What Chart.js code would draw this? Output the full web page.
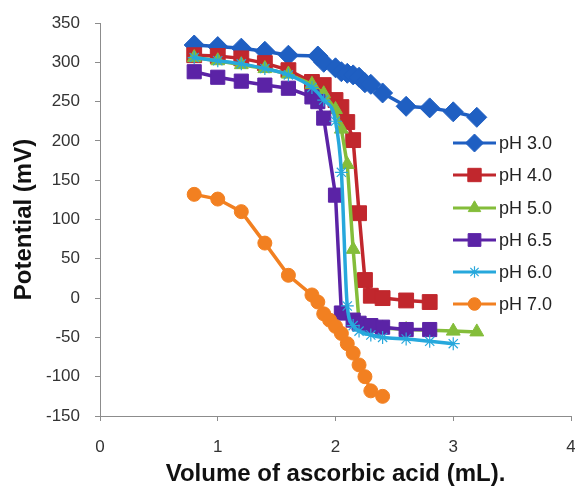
<!DOCTYPE html>
<html>
<head>
<meta charset="utf-8">
<script src="https://cdn.jsdelivr.net/npm/chart.js@4.4.1/dist/chart.umd.min.js"></script>
<style>
  html, body { margin: 0; padding: 0; background: #ffffff; }
  #wrap { width: 575px; height: 486px; }
</style>
</head>
<body>
<div id="wrap"><canvas id="c" width="575" height="486"></canvas></div>
<script>
// ---- data ----
const seriesNames = ["pH 3.0", "pH 4.0", "pH 5.0", "pH 6.5", "pH 6.0", "pH 7.0"];

const ph30X = [0.8, 1.0, 1.2, 1.4, 1.6, 1.85, 1.9, 2.0, 2.05, 2.1, 2.15, 2.2, 2.25, 2.3, 2.4, 2.6, 2.8, 3.0, 3.2];
const ph30Y = [322, 320, 318, 314, 309, 308, 300, 293, 288, 286, 284, 281, 274, 272, 261, 244, 242, 237, 230];

const ph40X = [0.8, 1.0, 1.2, 1.4, 1.6, 1.8, 1.9, 2.0, 2.05, 2.1, 2.15, 2.2, 2.25, 2.3, 2.4, 2.6, 2.8];
const ph40Y = [309, 308, 305, 299, 290, 275, 271, 252, 243, 224, 201, 108, 23, 3, 0, -3, -5];

const ph50X = [0.8, 1.0, 1.2, 1.4, 1.6, 1.8, 1.9, 2.0, 2.05, 2.1, 2.15, 2.2, 2.3, 2.4, 2.6, 2.8, 3.0, 3.2];
const ph50Y = [306, 302, 297, 292, 285, 272, 260, 240, 215, 170, 62, -30, -36, -38, -40, -41, -42, -43];

const ph65X = [0.8, 1.0, 1.2, 1.4, 1.6, 1.8, 1.85, 1.9, 2.0, 2.05, 2.15, 2.2, 2.3, 2.4, 2.6, 2.8];
const ph65Y = [288, 281, 276, 271, 267, 256, 250, 229, 131, -19, -28, -32, -35, -37, -40, -40];

const ph60X = [0.8, 1.0, 1.2, 1.4, 1.6, 1.8, 1.9, 2.0, 2.05, 2.1, 2.15, 2.2, 2.3, 2.4, 2.6, 2.8, 3.0];
const ph60Y = [306, 302, 298, 292, 284, 268, 252, 225, 160, -10, -35, -42, -47, -50, -52, -55, -58];

const ph70X = [0.8, 1.0, 1.2, 1.4, 1.6, 1.8, 1.85, 1.9, 1.95, 2.0, 2.05, 2.1, 2.15, 2.2, 2.25, 2.3, 2.4];
const ph70Y = [132, 126, 110, 70, 29, 4, -5, -20, -28, -36, -45, -58, -70, -85, -100, -118, -125];

const xTicks = [0, 1, 2, 3, 4];
const yTicks = [-150, -100, -50, 0, 50, 100, 150, 200, 250, 300, 350];

const xTitle = "Volume of ascorbic acid (mL).";
const yTitle = "Potential (mV)";

// ---- styling ----
const colors = ["#1F5FC2", "#C1272D", "#84BD3A", "#5B23A6", "#27A8DC", "#F28021"];
const styles = ["rectRot", "rect", "triangle", "rect", "star", "circle"];
const radii = [10, 10.5, 8, 10, 6.5, 7];

function pts(xs, ys) { return xs.map((x, i) => ({ x: x, y: ys[i] })); }
const allX = [ph30X, ph40X, ph50X, ph65X, ph60X, ph70X];
const allY = [ph30Y, ph40Y, ph50Y, ph65Y, ph60Y, ph70Y];

const datasets = seriesNames.map((name, i) => ({
  label: name,
  data: pts(allX[i], allY[i]),
  borderColor: colors[i],
  backgroundColor: colors[i],
  pointBackgroundColor: colors[i],
  pointBorderColor: colors[i],
  pointStyle: styles[i],
  pointRadius: radii[i],
  pointBorderWidth: styles[i] === "star" ? 1.2 : 1,
  borderWidth: 3.5,
  showLine: true,
  tension: i === 4 ? 0.4 : 0,
  cubicInterpolationMode: i === 4 ? "monotone" : "default",
  order: seriesNames.length - i
}));

const FONT = "'Liberation Sans', Arial, sans-serif";

const legendPlugin = {
  id: "insideLegend",
  afterDraw(chart) {
    const ctx = chart.ctx;
    const x0 = 453, x1 = 496, tx = 499;
    const rowY = [143, 175, 208, 240, 272, 304];
    ctx.save();
    chart.data.datasets.forEach((ds, i) => {
      const y = rowY[i];
      ctx.strokeStyle = ds.borderColor;
      ctx.lineWidth = 3;
      ctx.beginPath();
      ctx.moveTo(x0, y);
      ctx.lineTo(x1, y);
      ctx.stroke();
      ctx.fillStyle = ds.backgroundColor;
      ctx.strokeStyle = ds.borderColor;
      ctx.lineWidth = ds.pointBorderWidth;
      Chart.helpers.drawPoint(ctx, {
        pointStyle: ds.pointStyle, radius: ds.pointRadius * 0.9, rotation: 0, borderWidth: ds.pointBorderWidth
      }, (x0 + x1) / 2, y);
      ctx.fillStyle = "#222222";
      ctx.font = "18px " + FONT;
      ctx.textAlign = "left";
      ctx.textBaseline = "middle";
      ctx.fillText(ds.label, tx, y + 1);
    });
    ctx.restore();
  }
};

new Chart(document.getElementById("c"), {
  type: "scatter",
  data: { datasets: datasets },
  plugins: [legendPlugin],
  options: {
    responsive: false,
    animation: false,
    devicePixelRatio: 1,
    layout: { autoPadding: false, padding: { top: 23, right: 4, left: 0, bottom: 0 } },
    plugins: { legend: { display: false }, tooltip: { enabled: false } },
    scales: {
      x: {
        type: "linear",
        min: 0, max: 4,
        afterBuildTicks(scale) { scale.ticks = xTicks.map(v => ({ value: v })); },
        afterFit(scale) { scale.height = 70; scale.paddingRight = 0; scale.paddingLeft = 0; },
        border: { display: true, color: "#8c8c8c", width: 1 },
        grid: { drawOnChartArea: false, drawTicks: true, tickLength: 5, color: "#8c8c8c" },
        ticks: { font: { family: FONT, size: 17 }, color: "#333333", padding: 16 },
        title: {
          display: true, text: xTitle, color: "#111111",
          font: { family: FONT, size: 24, weight: "bold", lineHeight: 1 },
          padding: { top: 0, bottom: 0 }
        }
      },
      y: {
        type: "linear",
        min: -150, max: 350,
        afterBuildTicks(scale) { scale.ticks = yTicks.map(v => ({ value: v })); },
        afterFit(scale) { scale.width = 100; scale.paddingTop = 0; scale.paddingBottom = 0; },
        border: { display: true, color: "#8c8c8c", width: 1 },
        grid: { drawOnChartArea: false, drawTicks: true, tickLength: 5, color: "#8c8c8c" },
        ticks: { font: { family: FONT, size: 17 }, color: "#333333", padding: 15 },
        title: {
          display: true, text: yTitle, color: "#111111",
          font: { family: FONT, size: 24, weight: "bold", lineHeight: 1 },
          padding: { top: 12, bottom: 0 }
        }
      }
    }
  }
});
</script>
</body>
</html>
